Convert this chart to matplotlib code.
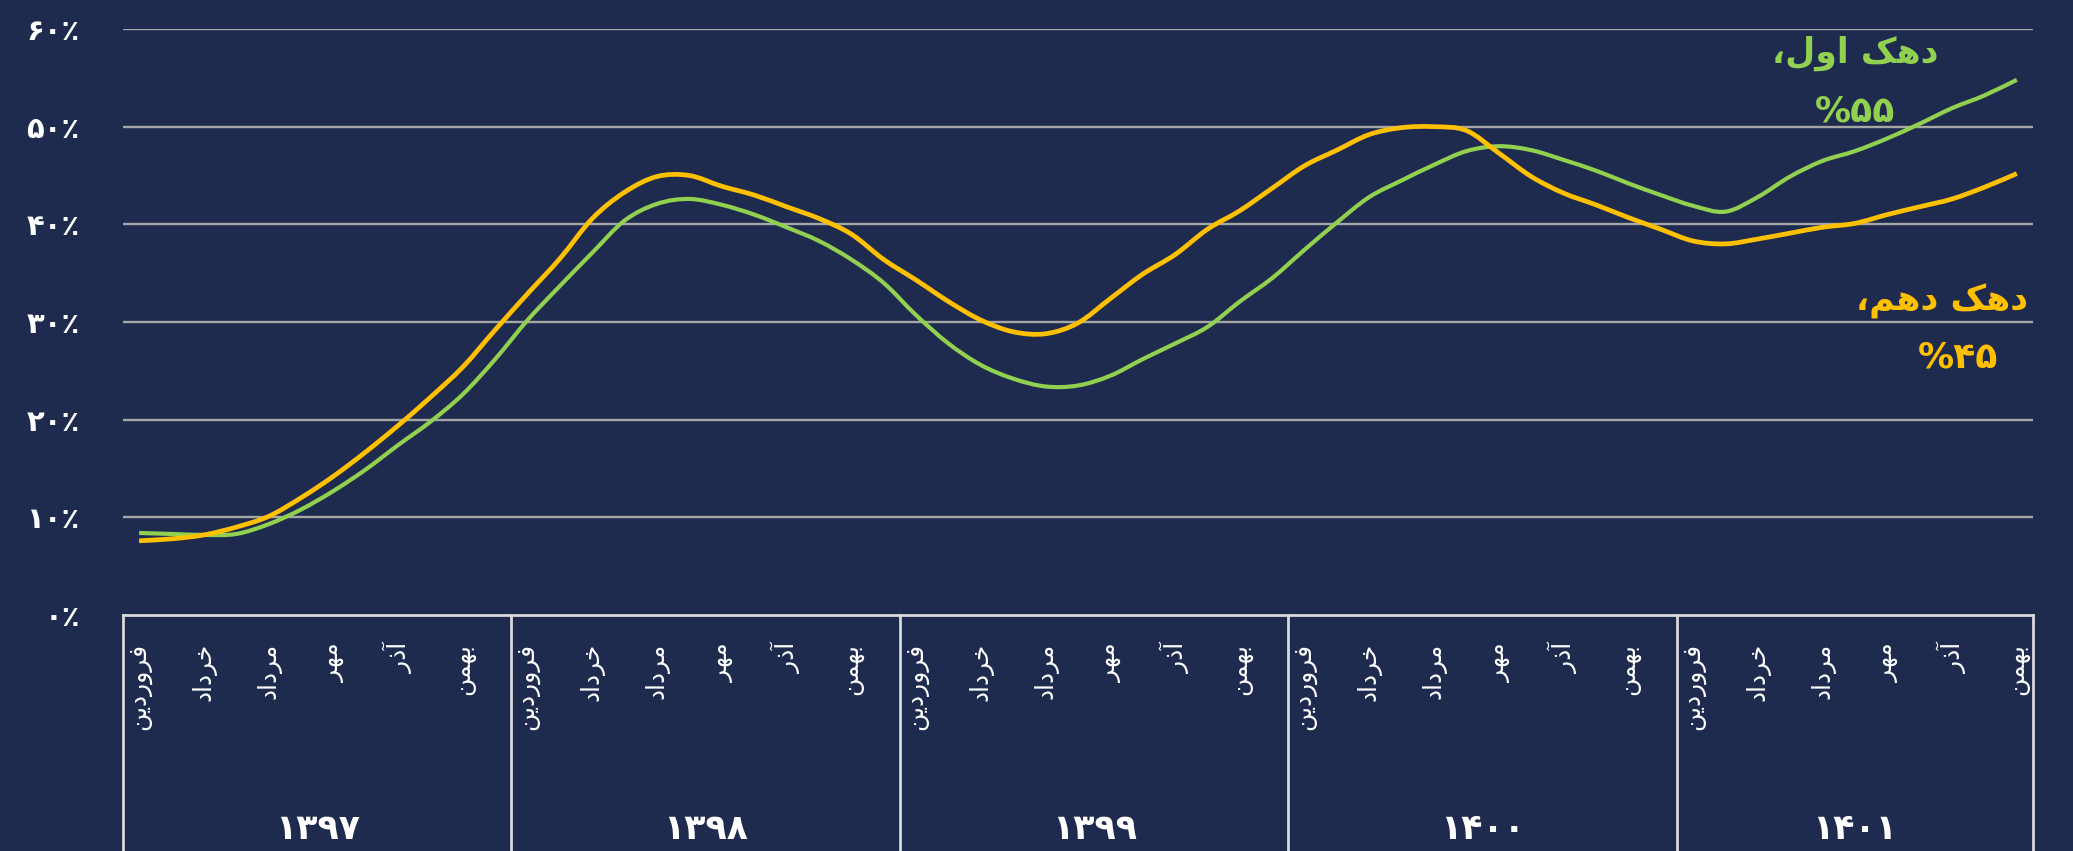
import numpy as np
import matplotlib
matplotlib.use('Agg')
import matplotlib.pyplot as plt
from matplotlib.path import Path
from matplotlib.patches import PathPatch

plt.rcParams['font.family'] = ['DejaVu Sans']

# years and number of monthly points in each
years = ['۱۳۹۷', '۱۳۹۸', '۱۳۹۹', '۱۴۰۰', '۱۴۰۱']
months_per_year = [12, 12, 12, 12, 11]

# every second month is labelled (shaped presentation forms, visual order)
month_labels = [
    '\uFEE6\uFEF3\uFEA9\uFEAD\uFEED\uFEAE\uFED3',   # farvardin
    '\uFEA9\uFE8D\uFEA9\uFEAE\uFEA7',               # khordad
    '\uFEA9\uFE8D\uFEA9\uFEAE\uFEE3',               # mordad
    '\uFEAE\uFEEC\uFEE3',                           # mehr
    '\uFEAD\uFEAB\uFE81',                           # azar
    '\uFEE6\uFEE4\uFEEC\uFE91',                     # bahman
]

# first decile (green) and tenth decile (orange), percent
first_decile = [8.4, 8.3, 8.2, 8.3, 9.3, 10.8, 12.7, 14.9, 17.4, 19.8, 22.6, 26.2,
                30.2, 33.7, 37.1, 40.4, 42.1, 42.6, 42.0, 41.0, 39.7, 38.3, 36.4, 34.0,
                30.7, 27.8, 25.6, 24.2, 23.4, 23.5, 24.5, 26.2, 27.8, 29.5, 32.1, 34.5,
                37.4, 40.2, 42.8, 44.5, 46.1, 47.5, 48.0, 47.6, 46.6, 45.5, 44.2, 43.0,
                41.9, 41.3, 42.8, 44.9, 46.5, 47.5, 48.8, 50.3, 51.9, 53.2, 54.8]
tenth_decile = [7.6, 7.8, 8.2, 9.0, 10.1, 12.0, 14.2, 16.7, 19.4, 22.3, 25.4, 29.2,
                32.9, 36.5, 40.6, 43.3, 44.9, 45.0, 43.9, 43.0, 41.8, 40.6, 39.0, 36.4,
                34.3, 32.1, 30.2, 29.0, 28.8, 29.9, 32.4, 34.9, 36.9, 39.5, 41.4, 43.7,
                46.0, 47.6, 49.2, 49.9, 50.0, 49.6, 47.3, 44.9, 43.2, 42.0, 40.7, 39.5,
                38.3, 38.0, 38.5, 39.1, 39.7, 40.1, 41.0, 41.8, 42.6, 43.8, 45.2]

y_ticks = [0, 10, 20, 30, 40, 50, 60]
y_labels = ['۰٪', '۱۰٪', '۲۰٪', '۳۰٪', '۴۰٪', '۵۰٪', '۶۰٪']

label_first = '\u060C\uFEDD\uFEED\uFE8D \uFB8F\uFEEB\uFEA9'
label_tenth = '\u060C\uFEE2\uFEEB\uFEA9 \uFB8F\uFEEB\uFEA9'
value_first = '%۵۵'
value_tenth = '%۴۵'

bg = '#1e2b4f'
green = '#92d050'
orange = '#ffc000'


def smooth_line(ax, xs, ys, **kw):
    # excel style smoothed line: bezier segments through the data points
    p = np.column_stack([xs, ys]).astype(float)
    ext = np.vstack([p[0], p, p[-1]])
    verts = [p[0]]
    codes = [Path.MOVETO]
    for i in range(len(p) - 1):
        c1 = ext[i + 1] + (ext[i + 2] - ext[i]) / 6
        c2 = ext[i + 2] - (ext[i + 3] - ext[i + 1]) / 6
        verts += [c1, c2, p[i + 1]]
        codes += [Path.CURVE4] * 3
    ax.add_patch(PathPatch(Path(verts, codes), fill=False, capstyle='butt',
                           joinstyle='round', **kw))


fig = plt.figure(figsize=(20.73, 8.51), dpi=100, facecolor=bg)
ax = fig.add_axes([0.0593, 0.2773, 0.9214, 0.6886])
ax.set_facecolor(bg)

n = len(first_decile)
x = np.arange(n)

for t in y_ticks[1:]:
    ax.axhline(t, color='#a6a6a6', lw=1.7, zorder=1)

smooth_line(ax, x, first_decile, edgecolor=green, lw=3.0, zorder=3)
smooth_line(ax, x, tenth_decile, edgecolor=orange, lw=3.4, zorder=4)

ax.set_xlim(-0.5, n - 0.5)
ax.set_ylim(0, 60)
for s in ax.spines.values():
    s.set_visible(False)
ax.set_xticks([])
ax.set_yticks(y_ticks)
ax.set_yticklabels(y_labels, color='white', fontsize=21, fontweight='bold')
ax.tick_params(axis='y', length=0, pad=31)

# category box under the plot
trans = ax.get_xaxis_transform()
ax.plot([-0.5, n - 0.5], [0, 0], color='#d9d9d9', lw=2, transform=trans, clip_on=False)
start = 0
bounds = [-0.5]
for yr, m in zip(years, months_per_year):
    for k, lab in enumerate(month_labels):
        ax.text(start + 2 * k, -0.048, lab, rotation=90, ha='center', va='top',
                color='white', fontsize=18, transform=trans)
    ax.text(start + (m - 1) / 2, -0.365, yr, ha='center', va='center',
            color='white', fontsize=25, fontweight='bold', transform=trans)
    start += m
    bounds.append(start - 0.5)
for b in bounds:
    ax.plot([b, b], [0, -0.5], color='#d9d9d9', lw=2, transform=trans, clip_on=False)

# end labels
ax.text(53.0, 57.5, label_first, color=green, fontsize=25, fontweight='bold',
        ha='center', va='center')
ax.text(53.0, 51.6, value_first, color=green, fontsize=26, fontweight='bold',
        ha='center', va='center')
ax.text(55.7, 32.1, label_tenth, color=orange, fontsize=25, fontweight='bold',
        ha='center', va='center')
ax.text(56.2, 26.4, value_tenth, color=orange, fontsize=26, fontweight='bold',
        ha='center', va='center')

fig.savefig('out.png', facecolor=bg)
